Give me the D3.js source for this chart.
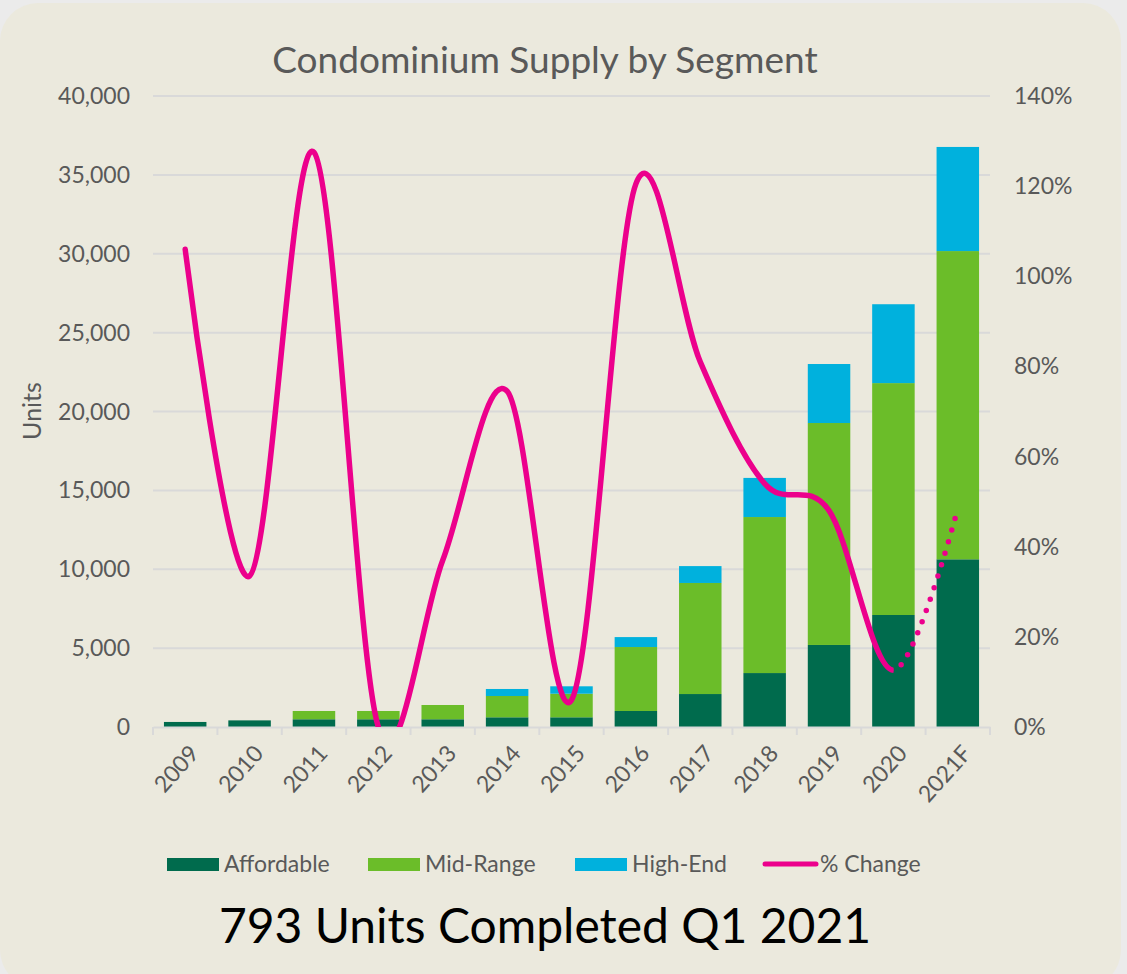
<!DOCTYPE html>
<html>
<head>
<meta charset="utf-8">
<script src="https://cdn.jsdelivr.net/npm/d3@7"></script>
<style>
  body { margin: 0; background: #ebebeb; }
  text { font-family: "Lato", "DejaVu Sans", sans-serif; }
</style>
</head>
<body>
<div id="chart"></div>
<script>
// chart values
var years = ["2009", "2010", "2011", "2012", "2013", "2014", "2015", "2016", "2017", "2018", "2019", "2020", "2021F"];
var affordable = [320, 420, 490, 490, 490, 615, 615, 1015, 2090, 3420, 5200, 7100, 10630];
var midRange = [0, 0, 525, 525, 905, 1350, 1495, 4055, 7040, 9890, 14070, 14700, 19540];
var highEnd = [0, 0, 0, 0, 0, 445, 470, 630, 1070, 2480, 3740, 5000, 6600];
var pctChange = [106, 33.5, 127.5, 0, 37, 74.5, 6, 120.5, 81, 54, 48, 12.6, 48.5];
var leftTicks = [0, 5000, 10000, 15000, 20000, 25000, 30000, 35000, 40000];
var rightTicks = [0, 20, 40, 60, 80, 100, 120, 140];

var svgWidth = 1127;
var svgHeight = 974;

var margin = { top: 96, right: 137, bottom: 247, left: 153 };
var width = svgWidth - margin.left - margin.right;
var height = svgHeight - margin.top - margin.bottom;

var svg = d3.select("#chart")
  .append("svg")
  .attr("width", svgWidth)
  .attr("height", svgHeight);

// rounded panel
svg.append("rect")
  .attr("x", 0)
  .attr("y", 3)
  .attr("width", 1121)
  .attr("height", 985)
  .attr("rx", 38)
  .attr("fill", "#ebe9dd");

svg.append("text")
  .attr("x", 545)
  .attr("y", 73)
  .attr("text-anchor", "middle")
  .attr("font-size", 37)
  .attr("fill", "#595959")
  .text("Condominium Supply by Segment");

var chartGroup = svg.append("g")
  .attr("transform", `translate(${margin.left}, ${margin.top})`);

var xScale = d3.scaleBand()
  .domain(years)
  .range([0, width])
  .paddingInner(0.34)
  .paddingOuter(0.17);

var yScale = d3.scaleLinear()
  .domain([0, 40000])
  .range([height, 0]);

var y2Scale = d3.scaleLinear()
  .domain([0, 140])
  .range([height, 0]);

// gridlines
chartGroup.selectAll(".grid")
  .data(leftTicks.slice(1))
  .enter()
  .append("line")
  .attr("x1", 0)
  .attr("x2", width)
  .attr("y1", d => yScale(d))
  .attr("y2", d => yScale(d))
  .attr("stroke", "#d9d9d9")
  .attr("stroke-width", 2);

// left axis labels
chartGroup.selectAll(".ylab")
  .data(leftTicks)
  .enter()
  .append("text")
  .attr("x", -23)
  .attr("y", d => yScale(d))
  .attr("dy", "0.35em")
  .attr("text-anchor", "end")
  .attr("font-size", 23)
  .attr("fill", "#595959")
  .text(d => d3.format(",")(d));

// right axis labels
chartGroup.selectAll(".y2lab")
  .data(rightTicks)
  .enter()
  .append("text")
  .attr("x", width + 24)
  .attr("y", d => y2Scale(d))
  .attr("dy", "0.35em")
  .attr("text-anchor", "start")
  .attr("font-size", 23)
  .attr("fill", "#595959")
  .text(d => d + "%");

svg.append("text")
  .attr("transform", "translate(41, 411) rotate(-90)")
  .attr("text-anchor", "middle")
  .attr("font-size", 25)
  .attr("fill", "#595959")
  .text("Units");

// stacked bars
var rows = years.map((y, i) => ({ year: y, affordable: affordable[i], midRange: midRange[i], highEnd: highEnd[i] }));
var keys = ["affordable", "midRange", "highEnd"];
var colors = { affordable: "#006b4d", midRange: "#6bbd29", highEnd: "#00b1dd" };
var stacked = d3.stack().keys(keys)(rows);

chartGroup.selectAll(".layer")
  .data(stacked)
  .enter()
  .append("g")
  .attr("fill", d => colors[d.key])
  .selectAll("rect")
  .data(d => d)
  .enter()
  .append("rect")
  .attr("x", d => xScale(d.data.year))
  .attr("y", d => yScale(d[1]))
  .attr("width", xScale.bandwidth())
  .attr("height", d => yScale(d[0]) - yScale(d[1]));

// x axis
var bottomAxis = d3.axisBottom(xScale).tickSize(0).tickFormat("");
var xAxis = chartGroup.append("g")
  .attr("transform", `translate(0, ${height})`)
  .call(bottomAxis);
xAxis.select(".domain").attr("stroke", "#d9d9d9").attr("stroke-width", 2);

var step = xScale.step();
var bounds = d3.range(years.length + 1).map(i => i * step);
chartGroup.selectAll(".xtick")
  .data(bounds)
  .enter()
  .append("line")
  .attr("x1", d => d)
  .attr("x2", d => d)
  .attr("y1", height)
  .attr("y2", height + 8)
  .attr("stroke", "#d9d9d9")
  .attr("stroke-width", 2);

chartGroup.selectAll(".xlab")
  .data(years)
  .enter()
  .append("text")
  .attr("transform", d => `translate(${xScale(d) + xScale.bandwidth() / 2 + 9}, ${height + 22}) rotate(-48)`)
  .attr("text-anchor", "end")
  .attr("dy", "0.35em")
  .attr("font-size", 23)
  .attr("fill", "#595959")
  .text(d => d);

// % change line: solid up to 2020, dotted for the forecast
var defs = svg.append("defs");
var cx2020 = xScale("2020") + xScale.bandwidth() / 2;
defs.append("clipPath").attr("id", "clipSolid")
  .append("rect").attr("x", -10).attr("y", -10).attr("width", cx2020 + 10).attr("height", height + 10);
defs.append("clipPath").attr("id", "clipDot")
  .append("rect").attr("x", cx2020).attr("y", -10).attr("width", width - cx2020).attr("height", height + 10);

var linePts = years.map((y, i) => ({ year: y, v: pctChange[i] }));
var line = d3.line()
  .x(d => xScale(d.year) + xScale.bandwidth() / 2)
  .y(d => y2Scale(d.v))
  .curve(d3.curveCatmullRom.alpha(0));

chartGroup.append("path")
  .datum(linePts)
  .attr("d", line)
  .attr("clip-path", "url(#clipSolid)")
  .attr("fill", "none")
  .attr("stroke", "#ec008c")
  .attr("stroke-width", 5.5)
  .attr("stroke-linecap", "round");

chartGroup.append("path")
  .datum(linePts)
  .attr("d", line)
  .attr("clip-path", "url(#clipDot)")
  .attr("fill", "none")
  .attr("stroke", "#ec008c")
  .attr("stroke-width", 5.5)
  .attr("stroke-linecap", "round")
  .attr("stroke-dasharray", "0 12");

// legend
var legendItems = [
  { label: "Affordable", color: colors.affordable, x: 167, type: "box" },
  { label: "Mid-Range", color: colors.midRange, x: 368, type: "box" },
  { label: "High-End", color: colors.highEnd, x: 575, type: "box" },
  { label: "% Change", color: "#ec008c", x: 763, type: "line" }
];
var legend = svg.append("g");
legendItems.forEach(function(item) {
  if (item.type === "box") {
    legend.append("rect")
      .attr("x", item.x)
      .attr("y", 858)
      .attr("width", 52)
      .attr("height", 13)
      .attr("fill", item.color);
  }
  else {
    legend.append("line")
      .attr("x1", item.x + 2)
      .attr("x2", item.x + 53)
      .attr("y1", 864)
      .attr("y2", 864)
      .attr("stroke", item.color)
      .attr("stroke-width", 5)
      .attr("stroke-linecap", "round");
  }
  legend.append("text")
    .attr("x", item.x + 57)
    .attr("y", 864)
    .attr("dy", "0.35em")
    .attr("font-size", 23)
    .attr("fill", "#595959")
    .text(item.label);
});

svg.append("text")
  .attr("x", 545)
  .attr("y", 943)
  .attr("text-anchor", "middle")
  .attr("font-size", 48)
  .attr("fill", "#000000")
  .text("793 Units Completed Q1 2021");
</script>
</body>
</html>
